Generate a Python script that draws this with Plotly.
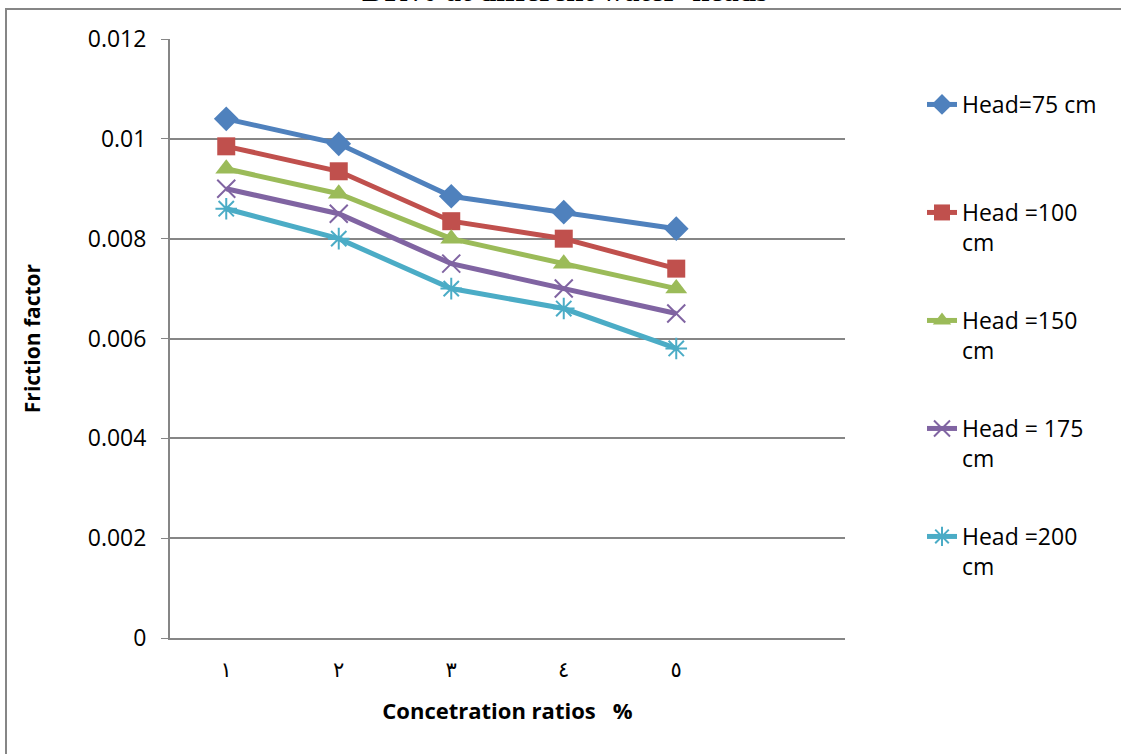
import plotly.graph_objects as go

# Concentration ratio categories (Arabic-Indic numerals on the axis)
categories = [1, 2, 3, 4, 5]
category_labels = ["١", "٢", "٣", "٤", "٥"]

# Friction factor for each water head
head_75 = [0.0104, 0.0099, 0.00885, 0.00853, 0.0082]
head_100 = [0.00985, 0.00935, 0.00835, 0.0080, 0.0074]
head_150 = [0.0094, 0.0089, 0.0080, 0.0075, 0.0070]
head_175 = [0.0090, 0.0085, 0.0075, 0.0070, 0.0065]
head_200 = [0.0086, 0.0080, 0.0070, 0.0066, 0.0058]

series_names = ["Head=75 cm", "Head =100<br>cm", "Head =150<br>cm",
                "Head = 175<br>cm", "Head =200<br>cm"]
series_values = [head_75, head_100, head_150, head_175, head_200]
colors = ["#4F81BD", "#C0504D", "#9BBB59", "#8064A2", "#4BACC6"]
symbols = ["diamond", "square", "triangle-up", "x-thin-open", "asterisk-open"]
marker_sizes = [19, 18, 19, 18, 18]

W, H = 1121, 754
L, R, T, B = 170, 845, 39, 638  # plot area in pixels


def px_x(px):
    return (px - L) / (R - L)


def px_y(py):
    return (B - py) / (B - T)


fig = go.Figure()
legend_tops = [83, 191, 299, 407, 515]
legend_keys = ["legend", "legend2", "legend3", "legend4", "legend5"]

for name, vals, col, sym, ms, lk in zip(series_names, series_values, colors,
                                         symbols, marker_sizes, legend_keys):
    open_sym = sym.endswith("open")
    fig.add_trace(go.Scatter(
        x=categories, y=vals, name=name, mode="lines+markers",
        line=dict(color=col, width=5),
        marker=dict(symbol=sym, size=ms, color=col,
                    line=dict(color=col, width=2 if open_sym else 0)),
        legend=lk,
    ))

legend_font = dict(family="Open Sans", size=23, color="#000000")
layout_legends = {}
for lk, top in zip(legend_keys, legend_tops):
    layout_legends[lk] = dict(
        x=px_x(922), y=px_y(top), xanchor="left", yanchor="top",
        font=legend_font, bgcolor="rgba(0,0,0,0)", valign="top",
        tracegroupgap=0, itemsizing="trace",
    )

fig.update_layout(
    width=W, height=H,
    margin=dict(l=L, r=W - R, t=T, b=H - B),
    paper_bgcolor="white", plot_bgcolor="white",
    showlegend=True,
    **layout_legends,
    xaxis=dict(
        range=[0.5, 6.5], tickmode="array", tickvals=categories,
        ticktext=category_labels, showgrid=False, zeroline=False,
        showline=True, linecolor="#868686", linewidth=2, ticks="",
        tickfont=dict(family="DejaVu Sans", size=21, color="#000000"),
        ticklabelstandoff=12,
        title=dict(text="<b>Concetration ratios   %</b>", standoff=22,
                   font=dict(family="Open Sans", size=22, color="#000000")),
    ),
    yaxis=dict(
        range=[0, 0.012], dtick=0.002, tick0=0,
        showgrid=True, gridcolor="#868686", gridwidth=1.5,
        zeroline=False, showline=True, linecolor="#868686", linewidth=2,
        ticks="outside", ticklen=7, tickcolor="#868686",
        tickfont=dict(family="Open Sans", size=23, color="#000000"),
        ticklabelstandoff=10,
        title=dict(text="<b>Friction factor</b>", standoff=41,
                   font=dict(family="Open Sans", size=21, color="#000000")),
    ),
)

# Chart frame
fig.add_shape(type="rect", xref="paper", yref="paper",
              x0=px_x(6), x1=px_x(W + 10), y0=px_y(H + 10), y1=px_y(9),
              line=dict(color="#868686", width=2), fillcolor="rgba(0,0,0,0)",
              layer="below")

# Chart title (runs off the top edge of the page)
fig.add_annotation(text="<b>DR% at different water  heads</b>",
                   xref="paper", yref="paper", x=px_x(565), y=px_y(10),
                   xanchor="center", yanchor="bottom", showarrow=False,
                   font=dict(family="Liberation Serif", size=31, color="#000000"))

fig.write_html("out.html")
